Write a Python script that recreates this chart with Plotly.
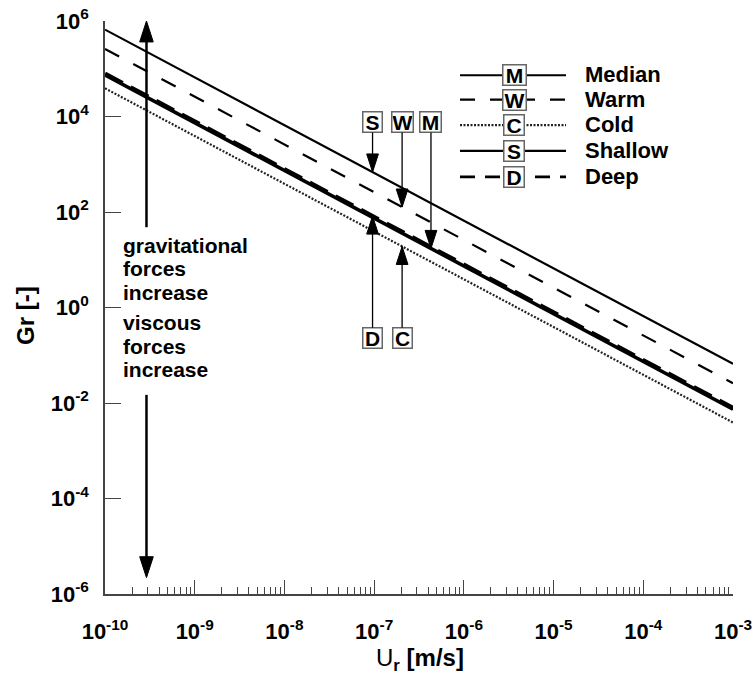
import numpy as np
import plotly.graph_objects as go

# ---------------- data ----------------
U_ENDS = [1e-10, 1e-3]                 # relative velocity Ur [m/s]
GR_SHALLOW = [6.6e5, 6.6e-2]
GR_WARM = [2.6e5, 2.6e-2]
GR_MEDIAN = [7.4e4, 7.4e-3]
GR_DEEP = [7.9e4, 7.9e-3]
GR_COLD = [3.9e4, 3.9e-3]

X_TICKS = [1e-10, 1e-9, 1e-8, 1e-7, 1e-6, 1e-5, 1e-4, 1e-3]
X_TICK_TEXT = ["10<sup>-10</sup>", "10<sup>-9</sup>", "10<sup>-8</sup>", "10<sup>-7</sup>",
               "10<sup>-6</sup>", "10<sup>-5</sup>", "10<sup>-4</sup>", "10<sup>-3</sup>"]
Y_TICKS = [1e-6, 1e-4, 1e-2, 1e0, 1e2, 1e4, 1e6]
Y_TICK_TEXT = ["10<sup>-6</sup>", "10<sup>-4</sup>", "10<sup>-2</sup>", "10<sup>0</sup>",
               "10<sup>2</sup>", "10<sup>4</sup>", "10<sup>6</sup>"]
X_MINOR = [m * 10.0 ** e for e in range(-10, -3) for m in range(2, 10)]

LEGEND_LETTERS = ["M", "W", "C", "S", "D"]
LEGEND_NAMES = ["Median", "Warm", "Cold", "Shallow", "Deep"]

# labelled arrows: letter, Ur where the arrow sits
LABEL_LETTERS = ["S", "W", "M", "D", "C"]
LABEL_U = [9.6e-8, 2.05e-7, 4.3e-7, 9.6e-8, 2.05e-7]
LABEL_BOX_GR_TOP = 7.6e3
LABEL_BOX_GR_BOTTOM = 0.23

BIG_ARROW_U = 2.9e-10
BIG_UP_GR = [48.0, 1e6]        # shaft start, tip
BIG_DOWN_GR = [0.0148, 2.2e-6]  # shaft start, tip

TEXT_UP = ["gravitational", "forces", "increase"]
TEXT_DOWN = ["viscous", "forces", "increase"]

# ---------------- styling ----------------
FONT = "Liberation Sans"
BLACK = "black"
AXC = "#444444"

SERIES = {
    "S": (GR_SHALLOW, dict(color=BLACK, width=2.2, dash="solid")),
    "W": (GR_WARM, dict(color=BLACK, width=2.2, dash="16px,16px")),
    "M": (GR_MEDIAN, dict(color=BLACK, width=3.6, dash="solid")),
    "D": (GR_DEEP, dict(color=BLACK, width=4.2, dash="20px,9px")),
    "C": (GR_COLD, dict(color="#222222", width=2.2, dash="2px,1.6px")),
}
LEGEND_STYLE = {
    "M": dict(color=BLACK, width=2.2, dash="solid"),
    "W": dict(color=BLACK, width=2.2, dash="15px,15px"),
    "C": dict(color="#222222", width=2.2, dash="2px,1.5px"),
    "S": dict(color=BLACK, width=2.2, dash="solid"),
    "D": dict(color=BLACK, width=2.6, dash="15px,10px"),
}

# page body margin is removed in the written page (post_script below)
BODY = 0
FIG_W, FIG_H = 755, 682
PX_L, PX_R, PX_T, PX_B = 105, 733, 20.7, 594.3   # screen px of plot area


def gr_at(series, u):
    return 10 ** np.interp(np.log10(u), np.log10(U_ENDS), np.log10(series))


def px_x(px):
    return (px - PX_L) / (PX_R - PX_L)


def px_y(py):
    return (PX_B - py) / (PX_B - PX_T)


fig = go.Figure()

for key in ["S", "W", "C", "M", "D"]:
    ys, ln = SERIES[key]
    fig.add_trace(go.Scatter(x=U_ENDS, y=ys, mode="lines", line=ln, hoverinfo="skip"))

# big double arrow shafts
fig.add_trace(go.Scatter(
    x=[BIG_ARROW_U, BIG_ARROW_U, None, BIG_ARROW_U, BIG_ARROW_U],
    y=[BIG_UP_GR[0], BIG_UP_GR[1] * 10 ** -0.35, None, BIG_DOWN_GR[0], BIG_DOWN_GR[1] * 10 ** 0.35],
    mode="lines", line=dict(color=BLACK, width=2.5), hoverinfo="skip", cliponaxis=False))

# arrow heads
head_x, head_y, head_ang = [], [], []
for letter, u in zip(LABEL_LETTERS, LABEL_U):
    head_x.append(u)
    head_y.append(gr_at(SERIES[letter][0], u))
    head_ang.append(180 if letter in ("S", "W", "M") else 0)
head_x += [BIG_ARROW_U, BIG_ARROW_U]
head_y += [BIG_UP_GR[1], BIG_DOWN_GR[1]]
head_ang += [0, 180]
fig.add_trace(go.Scatter(
    x=head_x, y=head_y, mode="markers", cliponaxis=False, hoverinfo="skip",
    marker=dict(symbol="arrow", size=[19, 19, 19, 19, 19, 22, 22], angle=head_ang,
                color=BLACK, opacity=1, line=dict(width=1, color=BLACK))))

annotations = []
box_font = dict(family=FONT, size=21, color=BLACK, weight="bold")
for letter, u in zip(LABEL_LETTERS, LABEL_U):
    tip = gr_at(SERIES[letter][0], u)
    top = letter in ("S", "W", "M")
    annotations.append(dict(
        x=np.log10(u), y=np.log10(tip), xref="x", yref="y",
        ax=np.log10(u), ay=np.log10(LABEL_BOX_GR_TOP if top else LABEL_BOX_GR_BOTTOM),
        axref="x", ayref="y", text=letter, showarrow=True, arrowhead=0,
        arrowwidth=1.3, arrowcolor=BLACK, standoff=0, startstandoff=0,
        bordercolor="#666666", borderwidth=1.5, borderpad=0, bgcolor="white",
        width=20 if letter in ("W", "M") else 18, height=19, font=box_font))

# explanatory text
text_font = dict(family=FONT, size=21, color=BLACK, weight="bold")
for txt, py in zip(TEXT_UP + TEXT_DOWN, [245, 268.5, 292, 323, 346.5, 370]):
    annotations.append(dict(x=px_x(122), y=px_y(py), xref="paper", yref="paper",
                            text=txt, showarrow=False, xanchor="left", yanchor="middle",
                            borderpad=0, font=text_font))

# custom legend
legend_font = dict(family=FONT, size=22, color=BLACK, weight="bold")
shapes = []
rows_py = [75, 99.5, 125, 150.7, 176.7]
for letter, name, py in zip(LEGEND_LETTERS, LEGEND_NAMES, rows_py):
    shapes.append(dict(type="line", xref="paper", yref="paper",
                       x0=px_x(460), x1=px_x(566), y0=px_y(py), y1=px_y(py),
                       line=LEGEND_STYLE[letter], layer="above"))
    annotations.append(dict(x=px_x(514), y=px_y(py), xref="paper", yref="paper",
                            text=letter, showarrow=False, xanchor="center", yanchor="middle",
                            bordercolor="#666666", borderwidth=1.5, borderpad=0,
                            bgcolor="white", height=19,
                            width=22 if letter in ("W", "M") else 19, font=box_font))
    annotations.append(dict(x=px_x(584), y=px_y(py - 0.5), xref="paper", yref="paper",
                            text=name, showarrow=False, xanchor="left", yanchor="middle",
                            borderpad=0, font=legend_font))

# axis titles
annotations.append(dict(x=px_x(26), y=px_y(316), xref="paper", yref="paper",
                        text="Gr [-]", textangle=-90, showarrow=False,
                        xanchor="center", yanchor="middle",
                        font=dict(family=FONT, size=24, color=BLACK, weight="bold")))
annotations.append(dict(x=px_x(420), y=px_y(660), xref="paper", yref="paper",
                        text="U<sub><b>r</b></sub> <b>[m/s]</b>", showarrow=False,
                        xanchor="center", yanchor="middle",
                        font=dict(family=FONT, size=24, color=BLACK, weight="normal")))

tick_font = dict(family=FONT, size=22, color=BLACK, weight="bold")
fig.update_layout(
    width=FIG_W, height=FIG_H, template="none",
    margin=dict(l=PX_L - BODY, r=FIG_W - (PX_R - BODY), t=PX_T - BODY,
                b=FIG_H - (PX_B - BODY), pad=0, autoexpand=False),
    paper_bgcolor="white", plot_bgcolor="white", showlegend=False,
    xaxis=dict(type="log", range=[-10, -3], showgrid=False, zeroline=False,
               showline=True, linecolor=AXC, linewidth=1.5, mirror=False,
               tickmode="array", tickvals=X_TICKS, ticktext=X_TICK_TEXT,
               ticks="inside", ticklen=14, tickwidth=1.3, tickcolor=AXC,
               tickfont=tick_font, ticklabelstandoff=17, automargin=False,
               ticklabeloverflow="allow",
               minor=dict(tickmode="array", tickvals=X_MINOR, ticks="inside",
                          ticklen=7, tickwidth=1, tickcolor=AXC, showgrid=False)),
    yaxis=dict(type="log", range=[-6, 6], showgrid=False, zeroline=False,
               showline=True, linecolor=AXC, linewidth=1.5, mirror=False,
               tickmode="array", tickvals=Y_TICKS, ticktext=Y_TICK_TEXT,
               ticks="inside", ticklen=16, tickwidth=1.3, tickcolor=AXC,
               tickfont=tick_font, ticklabelstandoff=10, automargin=False,
               ticklabeloverflow="allow"),
    annotations=annotations, shapes=shapes,
)

fig.write_html("out.html", config={"displayModeBar": False},
               post_script="document.body.style.margin='0px';document.body.style.overflow='hidden';")
